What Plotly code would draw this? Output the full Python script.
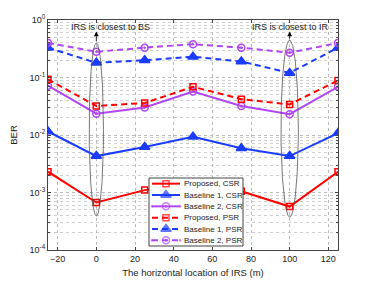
import numpy as np
import plotly.graph_objects as go

x_loc = [-25, 0, 25, 50, 75, 100, 125]
prop_csr = [2.3e-3, 6.7e-4, 1.1e-3, 1.3e-3, 1.05e-3, 5.7e-4, 2.3e-3]
base1_csr = [1.15e-2, 4.3e-3, 6.2e-3, 9.3e-3, 5.9e-3, 4.3e-3, 1.08e-2]
base2_csr = [7.2e-2, 2.35e-2, 3.0e-2, 5.7e-2, 3.2e-2, 2.3e-2, 6.9e-2]
prop_psr = [9.3e-2, 3.2e-2, 3.6e-2, 6.9e-2, 4.2e-2, 3.4e-2, 8.9e-2]
base1_psr = [0.33, 0.18, 0.20, 0.23, 0.19, 0.12, 0.33]
base2_psr = [0.40, 0.28, 0.33, 0.38, 0.33, 0.27, 0.40]

x_ticks = [-20, 0, 20, 40, 60, 80, 100, 120]
y_ticks = [1e-4, 1e-3, 1e-2, 1e-1, 1]
y_ticktext = ["10<sup>-4</sup>", "10<sup>-3</sup>", "10<sup>-2</sup>", "10<sup>-1</sup>", "10<sup>0</sup>"]

RED = "#ff0000"
BLUE = "#1a3cff"
PURPLE = "#b046f5"
FONT = "Liberation Sans, Arial, sans-serif"

OFF = 8  # page body offset
W, H = 374, 281
PW, PH = 290, 230
ML, MT = 48 - OFF, 20 - OFF
MR, MB = W - ML - PW, H - MT - PH

fig = go.Figure()

series = [
    ("Proposed, CSR", prop_csr, RED, "solid", "square-open", 6),
    ("Baseline 1, CSR", base1_csr, BLUE, "solid", "triangle-up", 9),
    ("Baseline 2, CSR", base2_csr, PURPLE, "solid", "circle-open-dot", 7),
    ("Proposed, PSR", prop_psr, RED, "6px,4px", "square-open", 6),
    ("Baseline 1, PSR", base1_psr, BLUE, "6px,4px", "triangle-up", 9),
    ("Baseline 2, PSR", base2_psr, PURPLE, "6px,4px", "circle-open-dot", 7),
]
for name, vals, col, dash, sym, sz in series:
    fig.add_trace(go.Scatter(
        x=x_loc, y=vals, name=name, mode="lines+markers",
        line=dict(color=col, width=2, dash=dash),
        marker=dict(symbol=sym, size=sz, color=col, line=dict(color=col, width=1.5)),
        showlegend=False,
    ))

# ellipses (decorations) in log-y space
t = np.linspace(0, 2 * np.pi, 200)
for xc, half_w, ytop, ybot in [(0, 3.7, -0.40, -3.41), (100, 4.5, -0.35, -3.43)]:
    c = (ytop + ybot) / 2
    a = (ytop - ybot) / 2
    fig.add_trace(go.Scatter(
        x=xc + half_w * np.cos(t), y=10 ** (c + a * np.sin(t)),
        mode="lines", line=dict(color="#555555", width=0.8),
        showlegend=False, hoverinfo="skip",
    ))
    fig.add_annotation(
        x=xc, y=-0.20, ax=xc, ay=ytop, xref="x", yref="y", axref="x", ayref="y",
        text="", showarrow=True, arrowhead=2, arrowsize=1.2, arrowwidth=0.8,
        arrowcolor="black",
    )

fig.add_annotation(x=7.5, y=-0.12, xref="x", yref="y", text="IRS is closest to BS",
                   showarrow=False, font=dict(size=9, color="#222", family=FONT))
fig.add_annotation(x=100.5, y=-0.12, xref="x", yref="y", text="IRS is closest to IR",
                   showarrow=False, font=dict(size=9, color="#222", family=FONT))

# ---- custom compact legend on an overlay axis (0..1 coords over plot area) ----
def px2x(px):
    return (px - 48) / PW

def px2y(py):
    return (20 + PH - py) / PH

bx0, bx1, by0, by1 = px2x(149), px2x(243), px2y(246), px2y(178)
fig.add_trace(go.Scatter(
    x=[bx0, bx1, bx1, bx0, bx0], y=[by0, by0, by1, by1, by0],
    xaxis="x2", yaxis="y2", mode="lines", fill="toself", fillcolor="white",
    line=dict(color="#444", width=1), showlegend=False, hoverinfo="skip",
))
row_h = (246 - 178) / 6
for i, (name, vals, col, dash, sym, sz) in enumerate(series):
    yc = px2y(178 + row_h * (i + 0.5))
    xs = [px2x(152), px2x(166), px2x(180)]
    fig.add_trace(go.Scatter(
        x=xs, y=[yc] * 3, xaxis="x2", yaxis="y2", mode="lines+markers",
        line=dict(color=col, width=2, dash=dash),
        marker=dict(symbol=sym, size=[0, sz, 0], color=col, line=dict(color=col, width=1.5)),
        showlegend=False, hoverinfo="skip",
    ))
    fig.add_annotation(x=px2x(182), y=yc, xref="x2", yref="y2", text=name,
                       showarrow=False, xanchor="left", yanchor="middle",
                       font=dict(size=8, color="#222", family=FONT))

minor_vals = [k * 10.0 ** e for e in range(-4, 0) for k in range(2, 10)]

fig.update_layout(
    width=W, height=H,
    margin=dict(l=ML, r=MR, t=MT, b=MB, autoexpand=False),
    paper_bgcolor="white", plot_bgcolor="white",
    font=dict(family=FONT, size=9, color="#222"),
    showlegend=False,
    xaxis2=dict(overlaying="x", range=[0, 1], visible=False, fixedrange=True),
    yaxis2=dict(overlaying="y", range=[0, 1], visible=False, fixedrange=True),
)
fig.update_layout(xaxis=dict(
    range=[-25, 125], tickvals=x_ticks,
    showline=True, linecolor="#444", linewidth=1, mirror="ticks",
    ticks="inside", ticklen=3, tickcolor="#444",
    showgrid=True, gridcolor="#bbbbbb", griddash="dot", gridwidth=1,
    zeroline=False,
    title=dict(text="The horizontal location of IRS (m)", font=dict(size=9.5, family=FONT), standoff=6),
    tickfont=dict(size=9, family=FONT),
))
fig.update_layout(yaxis=dict(
    type="log", range=[-4, 0], tickvals=y_ticks, ticktext=y_ticktext,
    showline=True, linecolor="#444", linewidth=1, mirror="ticks",
    ticks="inside", ticklen=3, tickcolor="#444",
    showgrid=True, gridcolor="#bbbbbb", griddash="dot", gridwidth=1,
    zeroline=False,
    minor=dict(tickvals=minor_vals, ticks="inside", ticklen=2, tickcolor="#444",
               showgrid=True, gridcolor="#d0d0d0", griddash="dot", gridwidth=1),
    title=dict(text="BER", font=dict(size=9.5, family=FONT), standoff=10),
    tickfont=dict(size=9, family=FONT),
))

fig.write_html("out.html")
